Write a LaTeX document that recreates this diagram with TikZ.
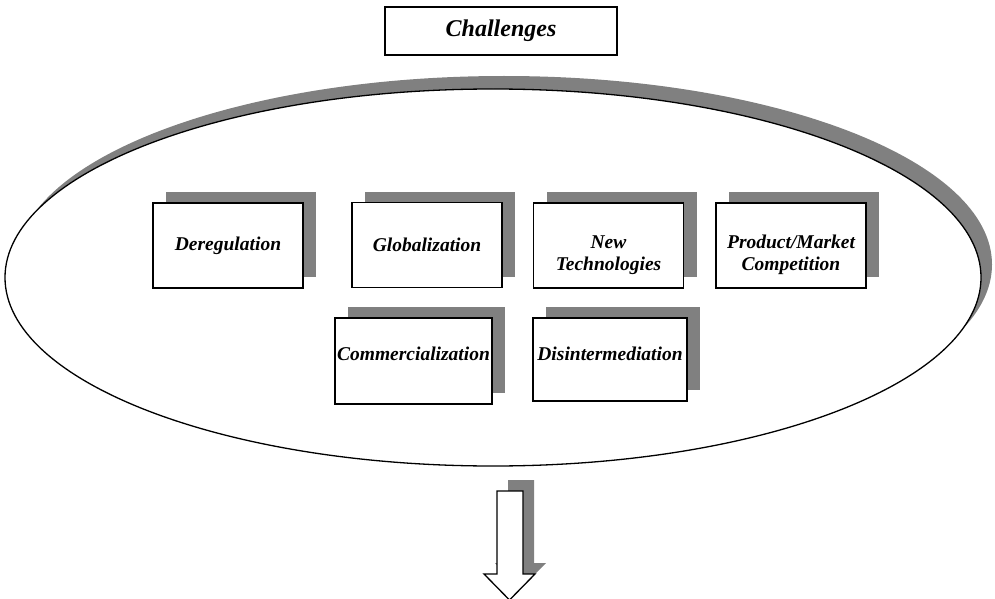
\documentclass[tikz,border=0pt]{standalone}
\usepackage{fontspec}
\setmainfont{Liberation Serif}
\usetikzlibrary{shadows}
\definecolor{shadowgray}{RGB}{128,128,128}
\newcommand{\topgap}{\rule{0pt}{33pt}}
\tikzset{
  titlebox/.style={draw, line width=1.6pt, minimum width=232pt, minimum height=48pt,
    font=\fontsize{24}{28}\selectfont\bfseries\itshape},
  forcebox/.style={draw, line width=1.6pt, fill=white, align=center,
    minimum width=150pt, minimum height=85pt, inner sep=2pt,
    font=\fontsize{19.5}{22}\selectfont\bfseries\itshape,
    drop shadow={shadow xshift=13pt, shadow yshift=11pt, fill=shadowgray, opacity=1}},
}
\begin{document}
\begin{tikzpicture}[x=1pt, y=-1pt]
	\useasboundingbox (0,0) rectangle (995,599);
	
	\node[titlebox] (challenges) at (501,31) {Challenges};
	
	% the big ellipse with its shadow
	\fill[shadowgray] (504,264.5) ellipse [x radius=488pt, y radius=188.5pt];
	\draw[line width=1.3pt, fill=white] (493,277.5) ellipse [x radius=488pt, y radius=188.5pt];
	
	\node[forcebox] (dereg) at (228,245.5) {Deregulation};
	\node[forcebox] (global) at (427,245) {Globalization};
	\node[forcebox] (newtech) at (608.5,245.5) {\topgap New\\Technologies};
	\node[forcebox] (product) at (791,245.5) {\topgap Product/Market\\Competition};
	
	\node[forcebox, minimum width=157pt, minimum height=86pt, text depth=14pt] (commerc) at (413.5,361) {Commercialization};
	\node[forcebox, minimum width=154pt, minimum height=83pt, text depth=12pt] (disinter) at (610,359.5) {Disintermediation};
	
	% block arrow down
	\fill[shadowgray, shift={(11,-11)}] (497,491) -- (523,491) -- (523,574) -- (535,574) -- (509.5,600) -- (484,574) -- (497,574) -- cycle;
	\draw[line width=1.3pt, fill=white] (497,491) -- (523,491) -- (523,574) -- (535,574) -- (509.5,600) -- (484,574) -- (497,574) -- cycle;
	
\end{tikzpicture}
\end{document}
